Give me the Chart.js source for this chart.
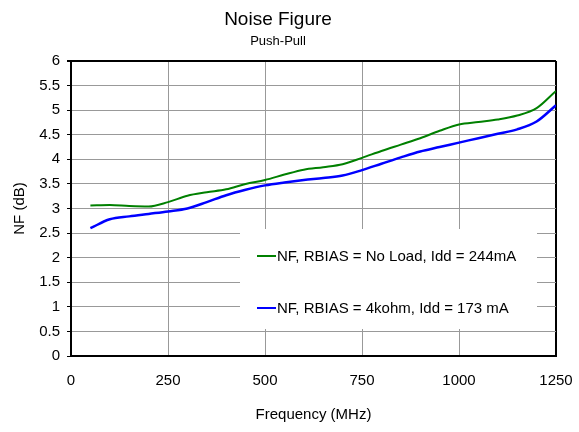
<!DOCTYPE html>
<html>
<head>
<meta charset="utf-8">
<title>Noise Figure</title>
<script src="https://cdn.jsdelivr.net/npm/chart.js@4/dist/chart.umd.min.js"></script>
<style>
  html, body { margin: 0; padding: 0; background: #fff; }
  #nfChart { display: block; }
</style>
</head>
<body>
<canvas id="nfChart" width="579" height="432"></canvas>
<script>
// frequency points (MHz)
const freqs = [50, 100, 150, 200, 250, 300, 350, 400, 450, 500, 550, 600, 650,
    700, 750, 800, 850, 900, 950, 1000, 1050, 1100, 1150, 1200, 1250];
// NF, RBIAS = No Load
const nfNoLoad = [3.06, 3.07, 3.05, 3.04, 3.13, 3.26, 3.33, 3.39, 3.50, 3.58, 3.69, 3.79, 3.84,
    3.90, 4.03, 4.17, 4.30, 4.43, 4.58, 4.71, 4.76, 4.81, 4.89, 5.04, 5.39];
// NF, RBIAS = 4kohm
const nf4k = [2.60, 2.78, 2.84, 2.89, 2.94, 3.00, 3.13, 3.27, 3.38, 3.47, 3.53, 3.58, 3.62,
    3.67, 3.78, 3.91, 4.04, 4.16, 4.25, 4.34, 4.43, 4.52, 4.61, 4.77, 5.10];

const seriesLabels = ['NF, RBIAS = No Load, Idd = 244mA', 'NF, RBIAS = 4kohm, Idd = 173 mA'];
const xTicks = [0, 250, 500, 750, 1000, 1250];
const yMax = 6;

const FONT = '"Liberation Sans", Arial, sans-serif';

function toPoints(ys) {
    return freqs.map((f, i) => ({ x: f, y: ys[i] }));
}

// white legend box inside the plot, drawn over the grid
const boxLegend = {
    id: 'boxLegend',
    afterDatasetsDraw(chart) {
        const { ctx, chartArea } = chart;
        const left = chartArea.left + 169;
        const top = chartArea.top + 168;
        ctx.save();
        ctx.fillStyle = '#fff';
        ctx.fillRect(left, top, 297, 100);
        ctx.font = '15px ' + FONT;
        ctx.textBaseline = 'middle';
        ctx.textAlign = 'left';
        chart.data.datasets.forEach((ds, i) => {
            const y = top + 27 + i * 52;
            ctx.strokeStyle = ds.borderColor;
            ctx.lineWidth = 2;
            ctx.beginPath();
            ctx.moveTo(left + 17, y);
            ctx.lineTo(left + 36, y);
            ctx.stroke();
            ctx.fillStyle = '#000';
            ctx.fillText(ds.label, left + 37, y + 1);
        });
        ctx.restore();
    }
};

new Chart(document.getElementById('nfChart'), {
    type: 'line',
    data: {
        datasets: [{
            label: seriesLabels[0],
            data: toPoints(nfNoLoad),
            borderColor: '#008000',
            borderWidth: 2,
            pointRadius: 0,
            cubicInterpolationMode: 'monotone',
            fill: false
        }, {
            label: seriesLabels[1],
            data: toPoints(nf4k),
            borderColor: '#0000ff',
            borderWidth: 2.5,
            pointRadius: 0,
            cubicInterpolationMode: 'monotone',
            fill: false
        }]
    },
    options: {
        responsive: false,
        animation: false,
        layout: { autoPadding: false, padding: { left: 0, right: 23, top: 0, bottom: 0 } },
        plugins: {
            legend: { display: false },
            tooltip: { enabled: false },
            title: {
                display: true,
                text: 'Noise Figure',
                color: '#000',
                font: { family: FONT, size: 19, weight: 'normal' },
                padding: { top: 8, bottom: 0 }
            },
            subtitle: {
                display: true,
                text: 'Push-Pull',
                color: '#000',
                font: { family: FONT, size: 13, weight: 'normal' },
                padding: { top: 3, bottom: 11.6 }
            }
        },
        scales: {
            x: {
                type: 'linear',
                min: 0,
                max: 1250,
                afterBuildTicks: (scale) => { scale.ticks = xTicks.map(v => ({ value: v })); },
                afterFit: (scale) => {
                    scale.height = 76;
                    // keep 0 and 1250 on the plot edges
                    scale.paddingLeft = 0;
                    scale.paddingRight = 0;
                },
                ticks: {
                    color: '#000',
                    padding: 16,
                    maxRotation: 0,
                    font: { family: FONT, size: 15 },
                    callback: (v) => String(v)
                },
                grid: {
                    drawTicks: false,
                    color: (c) => c.tick && c.tick.value === 1250 ? '#000' : '#999',
                    lineWidth: (c) => c.tick && c.tick.value === 1250 ? 2 : 1
                },
                border: { color: '#000', width: 2 },
                title: {
                    display: true,
                    text: 'Frequency (MHz)',
                    color: '#000',
                    font: { family: FONT, size: 15 },
                    padding: { top: 8, bottom: 8 }
                }
            },
            y: {
                min: 0,
                max: yMax,
                afterFit: (scale) => { scale.width = 71; },
                ticks: {
                    stepSize: 0.5,
                    color: '#000',
                    padding: 7,
                    font: { family: FONT, size: 15 },
                    callback: (v) => String(v)
                },
                grid: {
                    tickLength: 4,
                    tickColor: '#000',
                    color: (c) => c.tick && c.tick.value === yMax ? '#000' : '#999',
                    lineWidth: (c) => c.tick && c.tick.value === yMax ? 2 : 1
                },
                border: { color: '#000', width: 2 },
                title: {
                    display: true,
                    text: 'NF (dB)',
                    color: '#000',
                    font: { family: FONT, size: 15 },
                    padding: { top: 11, bottom: 0 }
                }
            }
        }
    },
    plugins: [boxLegend]
});
</script>
</body>
</html>
